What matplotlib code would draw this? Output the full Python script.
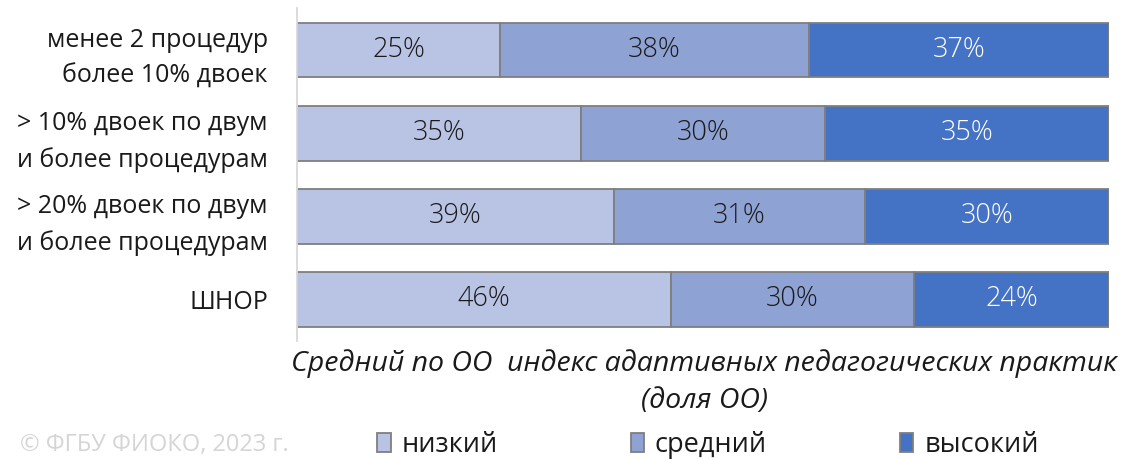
import numpy as np
import matplotlib.pyplot as plt

plt.rcParams['font.family'] = ['Open Sans', 'DejaVu Sans']

categories = ["менее 2 процедур\nболее 10% двоек",
              "> 10% двоек по двум\nи более процедурам",
              "> 20% двоек по двум\nи более процедурам",
              "ШНОР"]
low = [25, 35, 39, 46]
mid = [38, 30, 31, 30]
high = [37, 35, 30, 24]
series_names = ["низкий", "средний", "высокий"]
colors = ["#B9C3E3", "#8FA2D4", "#4472C4"]
text_colors = ["#1A1A1A", "#1A1A1A", "white"]

fig = plt.figure(figsize=(11.22, 4.59), dpi=100)
ax = fig.add_axes([0.2647, 0.257, 0.7237, 0.7245])

y = np.arange(len(categories))
left = np.zeros(len(categories))
handles = []
for vals, c, tc, name in zip([low, mid, high], colors, text_colors, series_names):
    vals = np.array(vals, dtype=float)
    b = ax.barh(y, vals, left=left, height=0.66, color=c, edgecolor="#7F7F7F",
                linewidth=1.3, label=name)
    handles.append(b)
    for yi, l, v in zip(y, left, vals):
        ax.text(l + v / 2, yi, f"{int(v)}%", ha="center", va="center",
                fontsize=19.5, color=tc, fontweight="light")
    left += vals

ax.set_xlim(0, 100)
ax.set_ylim(3.5, -0.5)
ax.set_yticks(y)
ax.set_yticklabels(categories, fontsize=18, color="#1A1A1A", linespacing=1.55)
ax.tick_params(axis="y", length=0, pad=21)
ax.set_xticks([])
for s in ["top", "right", "bottom"]:
    ax.spines[s].set_visible(False)
ax.spines["left"].set_color("#D9D9D9")
ax.spines["left"].set_linewidth(1.3)

fig.text(0.6275, 0.168, "Средний по ОО  индекс адаптивных педагогических практик\n(доля ОО)",
         ha="center", va="center", fontsize=20.5, style="italic", color="#1A1A1A",
         linespacing=1.45)
fig.text(0.018, 0.03, "© ФГБУ ФИОКО, 2023 г.", ha="left", va="center",
         fontsize=17, color="#D5D5D5")

leg = fig.legend(handles=handles, labels=series_names, loc="center",
                 bbox_to_anchor=(0.631, 0.03), ncol=3, frameon=False,
                 fontsize=19.5, handlelength=0.5, handleheight=0.7,
                 handletextpad=0.4, columnspacing=4.9, borderpad=0)
for t in leg.get_texts():
    t.set_color("#1A1A1A")

fig.savefig("out.png", dpi=100)
